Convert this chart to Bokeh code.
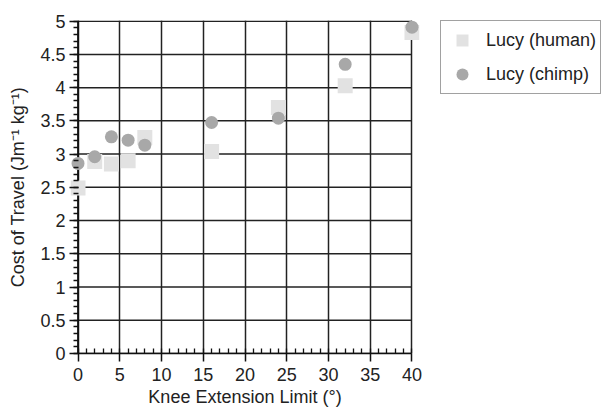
from bokeh.plotting import figure
from bokeh.models import Range1d, SingleIntervalTicker, Legend, LegendItem
from bokeh.layouts import row
from bokeh.embed import file_html
from bokeh.resources import INLINE

knee_limit = [0, 2, 4, 6, 8, 16, 24, 32, 40]
lucy_human = [2.49, 2.89, 2.85, 2.9, 3.25, 3.04, 3.7, 4.03, 4.83]
lucy_chimp = [2.86, 2.96, 3.26, 3.21, 3.135, 3.475, 3.54, 4.35, 4.91]
series_names = ["Lucy (human)", "Lucy (chimp)"]
x_ticks = [0, 5, 10, 15, 20, 25, 30, 35, 40]
y_ticks = [0, 0.5, 1, 1.5, 2, 2.5, 3, 3.5, 4, 4.5, 5]

FONT = "Liberation Sans"
HUMAN_COLOR = "#e2e2e2"
CHIMP_COLOR = "#a8a8a8"
GRID_COLOR = "#222222"
AXIS_COLOR = "#111111"

# x range padded slightly so markers at the edges are not clipped
p = figure(width=440, height=411, output_backend="svg", toolbar_location=None,
           x_range=Range1d(-0.9, 40.9), y_range=Range1d(0, 5.01),
           min_border_left=70, min_border_right=21, min_border_top=20, min_border_bottom=58)
p.outline_line_color = None
p.background_fill_color = "white"
p.border_fill_color = "white"

p.xaxis.ticker = SingleIntervalTicker(interval=5, num_minor_ticks=5)
p.yaxis.ticker = SingleIntervalTicker(interval=0.5, num_minor_ticks=5)
p.xaxis.bounds = (x_ticks[0], x_ticks[-1])
p.yaxis.bounds = (y_ticks[0], y_ticks[-1])

for ax in (p.xaxis[0], p.yaxis[0]):
    ax.axis_line_color = AXIS_COLOR
    ax.axis_line_width = 1.6
    ax.major_tick_line_color = AXIS_COLOR
    ax.minor_tick_line_color = AXIS_COLOR
    ax.major_tick_line_width = 1.5
    ax.minor_tick_line_width = 1.3
    ax.major_label_text_font = FONT
    ax.major_label_text_font_size = "18px"
    ax.major_label_text_color = "#222222"
    ax.axis_label_text_font = FONT
    ax.axis_label_text_font_size = "18px"
    ax.axis_label_text_font_style = "normal"
    ax.axis_label_text_color = "#222222"

p.xaxis.major_tick_in = 0
p.xaxis.major_tick_out = 8
p.xaxis.minor_tick_in = 5
p.xaxis.minor_tick_out = 0
p.xaxis.major_label_standoff = 6
p.xaxis.axis_label = "Knee Extension Limit (°)"
p.xaxis.axis_label_standoff = 3

# the y axis sits at the frame edge, ~7.5px left of x=0; ticks reach in to x=0
p.yaxis.axis_line_color = None
p.yaxis.major_tick_in = 8
p.yaxis.major_tick_out = 1
p.yaxis.minor_tick_in = 8
p.yaxis.minor_tick_out = -3
p.yaxis.major_label_standoff = 4
p.yaxis.axis_label = "Cost of Travel (Jm⁻¹ kg⁻¹)"
p.yaxis.axis_label_standoff = 9

p.xgrid.grid_line_color = GRID_COLOR
p.xgrid.grid_line_width = 1.5
p.ygrid.visible = False
# horizontal grid lines limited to the axis span
p.segment(x0=x_ticks[0], x1=x_ticks[-1], y0=y_ticks, y1=y_ticks,
          line_color=GRID_COLOR, line_width=1.5)
# y axis line at x = 0
p.segment(x0=x_ticks[0], x1=x_ticks[0], y0=y_ticks[0], y1=y_ticks[-1],
          line_color=AXIS_COLOR, line_width=1.8)

p.scatter(knee_limit, lucy_human, marker="square", size=15,
          fill_color=HUMAN_COLOR, line_color=None)
p.scatter(knee_limit, lucy_chimp, marker="circle", size=13,
          fill_color=CHIMP_COLOR, line_color=None)

# legend panel (separate figure so the legend can sit outside the plot frame)
q = figure(width=162, height=411, output_backend="svg", toolbar_location=None,
           x_axis_type=None, y_axis_type=None,
           x_range=Range1d(100, 101), y_range=Range1d(100, 101),
           min_border_left=0, min_border_right=0, min_border_top=20, min_border_bottom=0)
q.grid.visible = False
q.outline_line_color = None
q.background_fill_color = "white"
q.border_fill_color = "white"
l_h = q.scatter(knee_limit, lucy_human, marker="square", fill_color=HUMAN_COLOR, line_color=None)
l_c = q.scatter(knee_limit, lucy_chimp, marker="circle", fill_color=CHIMP_COLOR, line_color=None)

legend = Legend(items=[LegendItem(label=series_names[0], renderers=[l_h]),
                       LegendItem(label=series_names[1], renderers=[l_c])],
                location="top_left")
legend.label_text_font = FONT
legend.label_text_font_size = "18px"
legend.label_text_color = "#222222"
legend.border_line_color = "#444444"
legend.border_line_width = 1
legend.background_fill_color = "white"
legend.background_fill_alpha = 1
legend.padding = 4
legend.spacing = 4
legend.glyph_width = 34
legend.glyph_height = 30
legend.label_height = 30
legend.label_standoff = 7
legend.margin = 0
q.add_layout(legend, "center")

layout = row(p, q, spacing=0)
open("out.html", "w").write(file_html(layout, INLINE))
